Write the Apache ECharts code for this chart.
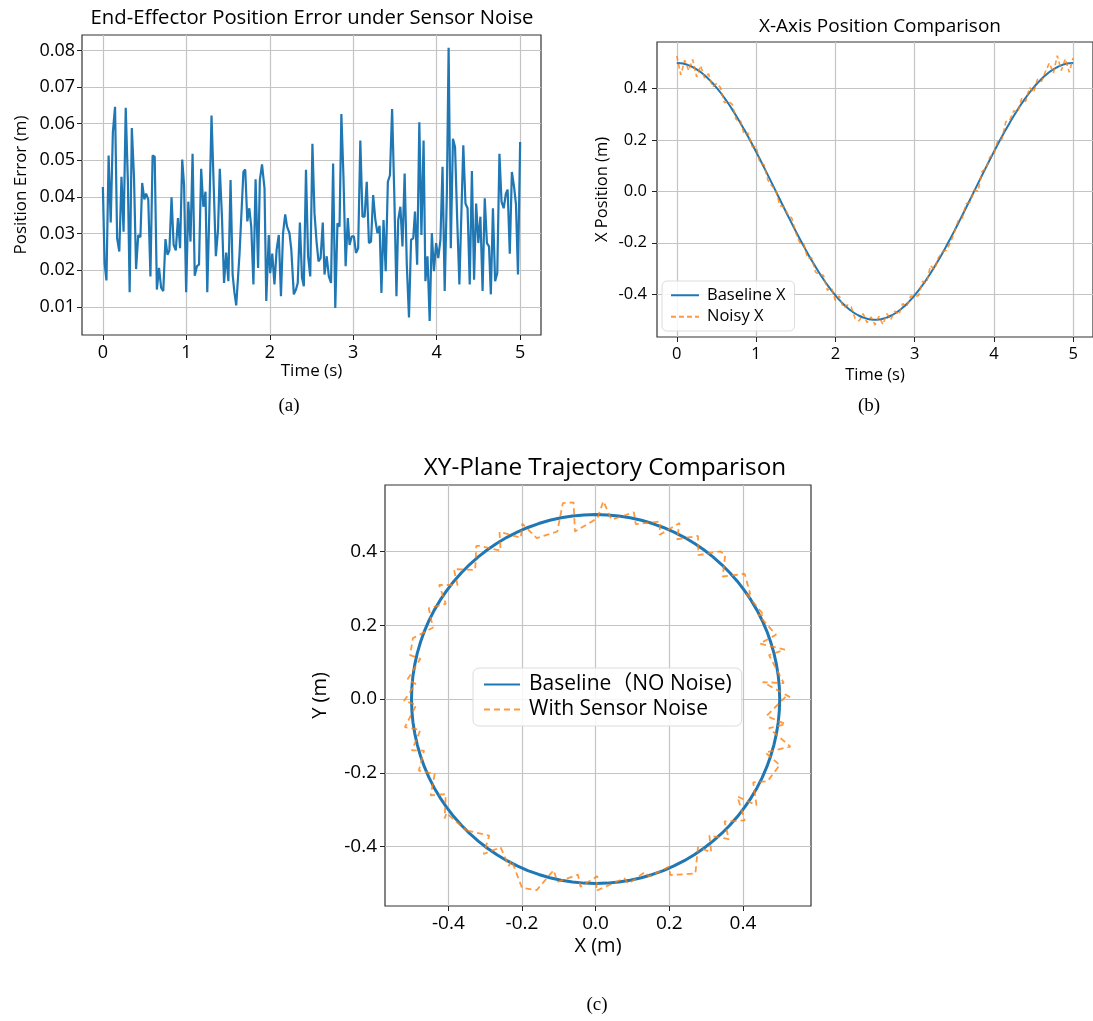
<!DOCTYPE html>
<html>
<head>
<meta charset="utf-8">
<script src="https://cdn.jsdelivr.net/npm/echarts@6/dist/echarts.min.js"></script>
<style>
html,body{margin:0;padding:0;background:#fff;}
#main{width:1093px;height:1021px;}
</style>
</head>
<body>
<div id="main"></div>
<script>
// ---------- Panel (a): position error ----------
const timeA = [0.000,0.021,0.043,0.069,0.094,0.120,0.146,0.171,0.197,0.223,0.248,0.274,0.300,0.321,0.347,0.373,0.398,0.424,0.450,0.471,0.497,0.518,0.544,0.570,0.596,0.621,0.647,0.673,0.698,0.724,0.750,0.775,0.797,0.823,0.848,0.874,0.900,0.925,0.951,0.973,0.998,1.024,1.050,1.075,1.101,1.127,1.152,1.178,1.204,1.230,1.251,1.277,1.302,1.328,1.354,1.380,1.401,1.427,1.452,1.478,1.504,1.530,1.555,1.577,1.598,1.637,1.660,1.684,1.706,1.731,1.755,1.778,1.804,1.830,1.860,1.881,1.907,1.937,1.958,1.988,2.005,2.030,2.056,2.082,2.108,2.134,2.159,2.185,2.207,2.236,2.258,2.288,2.314,2.335,2.361,2.386,2.408,2.434,2.459,2.485,2.511,2.536,2.562,2.584,2.609,2.635,2.656,2.682,2.708,2.734,2.759,2.785,2.811,2.836,2.858,2.883,2.909,2.935,2.956,2.982,3.008,3.033,3.059,3.085,3.111,3.136,3.162,3.188,3.213,3.239,3.265,3.290,3.316,3.338,3.363,3.389,3.415,3.440,3.466,3.492,3.518,3.539,3.565,3.590,3.616,3.642,3.668,3.693,3.719,3.740,3.766,3.792,3.817,3.843,3.865,3.890,3.916,3.942,3.967,3.993,4.019,4.045,4.070,4.096,4.122,4.143,4.169,4.195,4.220,4.246,4.272,4.319,4.345,4.370,4.396,4.422,4.448,4.473,4.499,4.524,4.550,4.576,4.602,4.627,4.649,4.674,4.700,4.726,4.752,4.777,4.803,4.829,4.850,4.876,4.901,4.927,4.950,4.974,5.000];
const errA = [0.0427,0.0219,0.0172,0.0513,0.0330,0.0577,0.0646,0.0287,0.0251,0.0455,0.0305,0.0643,0.0441,0.0140,0.0588,0.0455,0.0203,0.0296,0.0290,0.0438,0.0393,0.0409,0.0393,0.0183,0.0513,0.0510,0.0147,0.0206,0.0152,0.0143,0.0285,0.0242,0.0254,0.0399,0.0269,0.0254,0.0342,0.0260,0.0502,0.0432,0.0140,0.0387,0.0278,0.0518,0.0185,0.0211,0.0215,0.0477,0.0373,0.0414,0.0140,0.0369,0.0622,0.0432,0.0238,0.0310,0.0477,0.0346,0.0165,0.0248,0.0170,0.0446,0.0188,0.0138,0.0104,0.0242,0.0247,0.0468,0.0475,0.0333,0.0369,0.0319,0.0161,0.0448,0.0206,0.0446,0.0489,0.0423,0.0116,0.0296,0.0192,0.0245,0.0161,0.0256,0.0296,0.0129,0.0301,0.0352,0.0319,0.0301,0.0256,0.0134,0.0147,0.0165,0.0330,0.0179,0.0156,0.0474,0.0238,0.0183,0.0545,0.0355,0.0274,0.0224,0.0233,0.0330,0.0188,0.0238,0.0183,0.0165,0.0491,0.0097,0.0328,0.0319,0.0626,0.0455,0.0211,0.0342,0.0269,0.0292,0.0292,0.0247,0.0260,0.0554,0.0346,0.0346,0.0441,0.0274,0.0278,0.0405,0.0337,0.0301,0.0321,0.0138,0.0337,0.0197,0.0441,0.0459,0.0640,0.0409,0.0129,0.0337,0.0373,0.0265,0.0464,0.0215,0.0071,0.0283,0.0287,0.0360,0.0215,0.0604,0.0296,0.0554,0.0170,0.0238,0.0061,0.0301,0.0197,0.0274,0.0233,0.0283,0.0482,0.0143,0.0409,0.0807,0.0260,0.0559,0.0536,0.0337,0.0161,0.0541,0.0382,0.0369,0.0161,0.0471,0.0174,0.0382,0.0274,0.0346,0.0143,0.0396,0.0274,0.0265,0.0134,0.0369,0.0170,0.0192,0.0518,0.0387,0.0369,0.0409,0.0420,0.0245,0.0468,0.0428,0.0380,0.0188,0.0550];

// ---------- Panel (b): X position vs time ----------
const timeB = [0,0.05,0.1,0.15,0.2,0.25,0.3,0.35,0.4,0.45,0.5,0.55,0.6,0.65,0.7,0.75,0.8,0.85,0.9,0.95,1,1.05,1.1,1.15,1.2,1.25,1.3,1.35,1.4,1.45,1.5,1.55,1.6,1.65,1.7,1.75,1.8,1.85,1.9,1.95,2,2.05,2.1,2.15,2.2,2.25,2.3,2.35,2.4,2.45,2.5,2.55,2.6,2.65,2.7,2.75,2.8,2.85,2.9,2.95,3,3.05,3.1,3.15,3.2,3.25,3.3,3.35,3.4,3.45,3.5,3.55,3.6,3.65,3.7,3.75,3.8,3.85,3.9,3.95,4,4.05,4.1,4.15,4.2,4.25,4.3,4.35,4.4,4.45,4.5,4.55,4.6,4.65,4.7,4.75,4.8,4.85,4.9,4.95,5];
const baseX = [0.5,0.4990,0.4961,0.4911,0.4843,0.4755,0.4649,0.4524,0.4382,0.4222,0.4045,0.3853,0.3645,0.3423,0.3187,0.2939,0.2679,0.2409,0.2129,0.1841,0.1545,0.1243,0.0937,0.0627,0.0314,0,-0.0314,-0.0627,-0.0937,-0.1243,-0.1545,-0.1841,-0.2129,-0.2409,-0.2679,-0.2939,-0.3187,-0.3423,-0.3645,-0.3853,-0.4045,-0.4222,-0.4382,-0.4524,-0.4649,-0.4755,-0.4843,-0.4911,-0.4961,-0.4990,-0.5,-0.4990,-0.4961,-0.4911,-0.4843,-0.4755,-0.4649,-0.4524,-0.4382,-0.4222,-0.4045,-0.3853,-0.3645,-0.3423,-0.3187,-0.2939,-0.2679,-0.2409,-0.2129,-0.1841,-0.1545,-0.1243,-0.0937,-0.0627,-0.0314,0,0.0314,0.0627,0.0937,0.1243,0.1545,0.1841,0.2129,0.2409,0.2679,0.2939,0.3187,0.3423,0.3645,0.3853,0.4045,0.4222,0.4382,0.4524,0.4649,0.4755,0.4843,0.4911,0.4961,0.4990,0.5];
const noisyX = [0.528,0.454,0.511,0.471,0.514,0.446,0.490,0.442,0.458,0.407,0.420,0.405,0.345,0.352,0.339,0.279,0.278,0.221,0.228,0.174,0.175,0.109,0.104,0.043,0.021,0.005,-0.056,-0.060,-0.089,-0.104,-0.160,-0.199,-0.203,-0.261,-0.258,-0.314,-0.324,-0.327,-0.385,-0.375,-0.425,-0.407,-0.453,-0.442,-0.450,-0.496,-0.504,-0.476,-0.511,-0.489,-0.520,-0.487,-0.518,-0.476,-0.499,-0.466,-0.480,-0.437,-0.448,-0.407,-0.410,-0.405,-0.350,-0.357,-0.289,-0.304,-0.258,-0.236,-0.228,-0.200,-0.160,-0.114,-0.104,-0.048,-0.041,0.005,0.001,0.078,0.089,0.134,0.145,0.199,0.203,0.271,0.278,0.314,0.309,0.362,0.350,0.405,0.385,0.437,0.428,0.467,0.500,0.461,0.529,0.471,0.516,0.464,0.520];

// ---------- Panel (c): XY trajectory ----------
const baseY = [0,0.0314,0.0627,0.0937,0.1243,0.1545,0.1841,0.2129,0.2409,0.2679,0.2939,0.3187,0.3423,0.3645,0.3853,0.4045,0.4222,0.4382,0.4524,0.4649,0.4755,0.4843,0.4911,0.4961,0.4990,0.5,0.4990,0.4961,0.4911,0.4843,0.4755,0.4649,0.4524,0.4382,0.4222,0.4045,0.3853,0.3645,0.3423,0.3187,0.2939,0.2679,0.2409,0.2129,0.1841,0.1545,0.1243,0.0937,0.0627,0.0314,0,-0.0314,-0.0627,-0.0937,-0.1243,-0.1545,-0.1841,-0.2129,-0.2409,-0.2679,-0.2939,-0.3187,-0.3423,-0.3645,-0.3853,-0.4045,-0.4222,-0.4382,-0.4524,-0.4649,-0.4755,-0.4843,-0.4911,-0.4961,-0.4990,-0.5,-0.4990,-0.4961,-0.4911,-0.4843,-0.4755,-0.4649,-0.4524,-0.4382,-0.4222,-0.4045,-0.3853,-0.3645,-0.3423,-0.3187,-0.2939,-0.2679,-0.2409,-0.2129,-0.1841,-0.1545,-0.1243,-0.0937,-0.0627,-0.0314,0];
const noisyY = [0.005,0.046,0.043,0.119,0.134,0.150,0.174,0.228,0.226,0.288,0.284,0.339,0.332,0.390,0.400,0.390,0.442,0.433,0.477,0.445,0.481,0.474,0.506,0.486,0.536,0.490,0.454,0.533,0.531,0.454,0.436,0.475,0.437,0.453,0.402,0.415,0.415,0.350,0.352,0.309,0.309,0.258,0.246,0.193,0.189,0.165,0.119,0.109,0.053,0.041,-0.005,-0.016,-0.076,-0.084,-0.139,-0.140,-0.194,-0.203,-0.261,-0.258,-0.324,-0.309,-0.357,-0.355,-0.370,-0.420,-0.402,-0.453,-0.437,-0.512,-0.518,-0.464,-0.496,-0.476,-0.509,-0.480,-0.520,-0.486,-0.501,-0.469,-0.481,-0.455,-0.477,-0.473,-0.402,-0.415,-0.370,-0.380,-0.332,-0.329,-0.264,-0.288,-0.226,-0.223,-0.179,-0.145,-0.129,-0.079,-0.068,-0.046,0.010];

// ---------- Tick labels ----------
const ticksTime = [0,1,2,3,4,5];
const ticksErr = [0.01,0.02,0.03,0.04,0.05,0.06,0.07,0.08];
const ticksPos = [-0.4,-0.2,0,0.2,0.4];

const FONT = "'Open Sans','Noto Sans CJK SC',sans-serif";
const SERIF = "'Liberation Serif','DejaVu Serif',serif";
const BLUE = '#1f77b4';
const ORANGE = '#ff7f0e';
const GRIDC = '#c4c4c4';

const zip = (a, b) => a.map((v, i) => [v, b[i]]);

function axisCfg(gridIndex, min, max, ticks, fmt, fs, name, nameGap, nameFs, margin) {
  return {
    type: 'value', gridIndex, min, max,
    name, nameLocation: 'middle', nameGap,
    nameTextStyle: {fontFamily: FONT, fontSize: nameFs, color: '#000'},
    axisLine: {show: false, onZero: false},
    axisTick: {show: true, inside: false, length: 5, customValues: ticks, lineStyle: {color: '#222', width: 1}},
    axisLabel: {customValues: ticks, formatter: fmt, fontFamily: FONT, fontSize: fs, color: '#000', margin},
    splitLine: {show: true, customValues: ticks, lineStyle: {color: GRIDC, width: 1.2}}
  };
}
const f0 = v => String(Math.round(v));
const f2 = v => v.toFixed(2);
const f1 = v => (Math.abs(v) < 1e-9 ? '0.0' : v.toFixed(1));

function label(text, x, y, font) {
  return {type: 'text', x, y, style: {text, font, fill: '#000', align: 'center', verticalAlign: 'middle', textAlign: 'center', textVerticalAlign: 'middle'}};
}

const chart = echarts.init(document.getElementById('main'), null, {renderer: 'canvas'});
const option = {
  animation: false,
  backgroundColor: '#fff',
  grid: [
    {left: 82, top: 35, width: 459, height: 300, show: true, borderColor: '#333', borderWidth: 1.2, backgroundColor: 'transparent'},
    {left: 657, top: 42, width: 446, height: 295, show: true, borderColor: '#333', borderWidth: 1.2, backgroundColor: 'transparent'},
    {left: 385, top: 485, width: 426, height: 421, show: true, borderColor: '#333', borderWidth: 1.2, backgroundColor: 'transparent'}
  ],
  xAxis: [
    axisCfg(0, -0.25, 5.25, ticksTime, f0, 18, 'Time (s)', 28, 17, 9),
    axisCfg(1, -0.25, 5.25, ticksTime, f0, 16.5, 'Time (s)', 30, 16.5, 9),
    axisCfg(2, -0.572, 0.585, ticksPos, f1, 19, 'X (m)', 30, 20, 8)
  ],
  yAxis: [
    axisCfg(0, 0.0023, 0.0842, ticksErr, f2, 18, 'Position Error (m)', 52, 17, 7),
    axisCfg(1, -0.567, 0.582, ticksPos, f1, 16.5, 'X Position (m)', 46, 16.5, 10),
    axisCfg(2, -0.561, 0.580, ticksPos, f1, 19, 'Y (m)', 55, 20, 8)
  ],
  legend: [
    {
      data: ['Baseline X', 'Noisy X'], orient: 'vertical', left: 662, top: 281,
      itemWidth: 28, itemHeight: 10, itemGap: 5, padding: [6, 9, 6, 8],
      itemStyle: {opacity: 0},
      borderColor: '#dcdcdc', borderWidth: 1, borderRadius: 5, backgroundColor: 'rgba(255,255,255,0.85)',
      textStyle: {fontFamily: FONT, fontSize: 16.5, color: '#000', padding: [0, 0, 0, 3]}
    },
    {
      data: ['Baseline（NO Noise)', 'With Sensor Noise'], orient: 'vertical', left: 473, top: 668,
      itemWidth: 36, itemHeight: 12, itemGap: 4, padding: [6, 10, 6, 10],
      itemStyle: {opacity: 0},
      borderColor: '#dcdcdc', borderWidth: 1, borderRadius: 6, backgroundColor: 'rgba(255,255,255,0.85)',
      textStyle: {fontFamily: FONT, fontSize: 21, color: '#000', padding: [0, 0, 0, 4]}
    }
  ],
  graphic: [
    label('End-Effector Position Error under Sensor Noise', 312, 18, '20.3px ' + FONT),
    label('X-Axis Position Comparison', 880, 27, '19px ' + FONT),
    label('XY-Plane Trajectory Comparison', 605, 468, '24.3px ' + FONT),
    label('(a)', 289, 406, '19px ' + SERIF),
    label('(b)', 869, 406, '19px ' + SERIF),
    label('(c)', 597, 1005, '19px ' + SERIF)
  ],
  series: [
    {
      name: 'Position Error', type: 'line', xAxisIndex: 0, yAxisIndex: 0,
      data: zip(timeA, errA), showSymbol: false, symbol: 'none',
      lineStyle: {color: BLUE, width: 2.2}, itemStyle: {color: BLUE}
    },
    {
      name: 'Baseline X', type: 'line', xAxisIndex: 1, yAxisIndex: 1,
      data: zip(timeB, baseX), showSymbol: false, symbol: 'none', smooth: true,
      lineStyle: {color: BLUE, width: 2}, itemStyle: {color: BLUE}
    },
    {
      name: 'Noisy X', type: 'line', xAxisIndex: 1, yAxisIndex: 1,
      data: zip(timeB, noisyX), showSymbol: false, symbol: 'none',
      lineStyle: {color: ORANGE, width: 1.6, type: [5, 3], opacity: 0.8}, itemStyle: {color: ORANGE}
    },
    {
      name: 'Baseline（NO Noise)', type: 'line', xAxisIndex: 2, yAxisIndex: 2,
      data: zip(baseX, baseY), showSymbol: false, symbol: 'none',
      lineStyle: {color: BLUE, width: 3}, itemStyle: {color: BLUE}
    },
    {
      name: 'With Sensor Noise', type: 'line', xAxisIndex: 2, yAxisIndex: 2,
      data: zip(noisyX, noisyY), showSymbol: false, symbol: 'none',
      lineStyle: {color: ORANGE, width: 1.8, type: [6, 4], opacity: 0.8}, itemStyle: {color: ORANGE}
    }
  ]
};
chart.setOption(option);
</script>
</body>
</html>
